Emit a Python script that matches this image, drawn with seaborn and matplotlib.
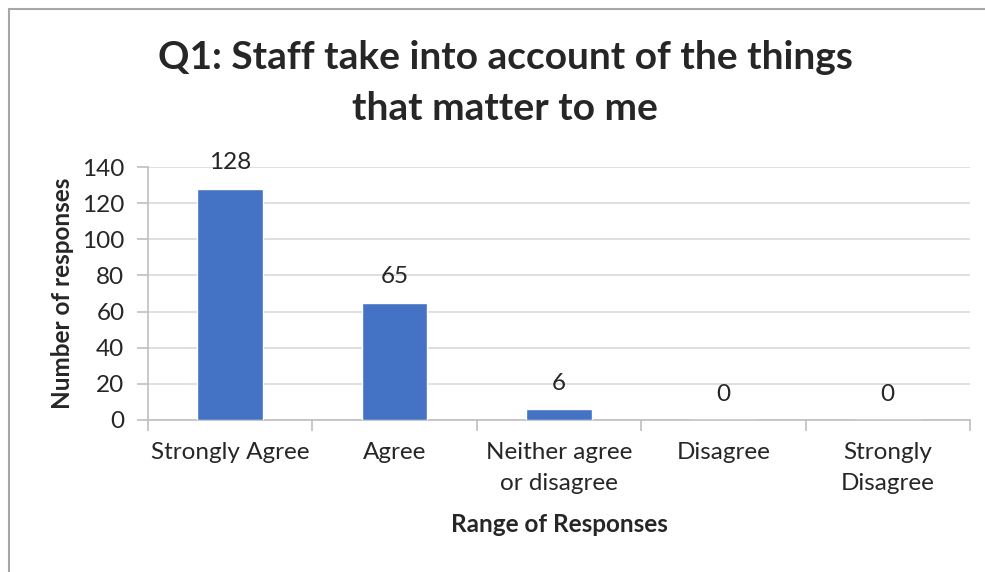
import matplotlib
matplotlib.use("Agg")
import matplotlib.pyplot as plt
from matplotlib.patches import Rectangle
from matplotlib.ticker import FixedLocator
import seaborn as sns
import pandas as pd

categories = ["Strongly Agree", "Agree", "Neither agree\nor disagree", "Disagree", "Strongly\nDisagree"]
responses = [128, 65, 6, 0, 0]
y_ticks = [0, 20, 40, 60, 80, 100, 120, 140]

title = "Q1: Staff take into account of the things\nthat matter to me"
x_label = "Range of Responses"
y_label = "Number of responses"

sns.set_theme(style="white")
plt.rcParams["font.family"] = ["Lato", "DejaVu Sans"]

df = pd.DataFrame({"category": categories, "count": responses})

fig = plt.figure(figsize=(9.85, 5.72), dpi=100)
ax = fig.add_axes([148 / 985, 1 - 420 / 572, (970 - 148) / 985, (420 - 167) / 572])

sns.barplot(data=df, x="category", y="count", color="#4472C4", width=0.4,
            saturation=1, ax=ax, zorder=3)

ax.set_ylim(0, 140)
ax.set_xlim(-0.5, len(categories) - 0.5)
ax.set_yticks(y_ticks)
ax.yaxis.grid(True, color="#d9d9d9", linewidth=1.2, zorder=0)
ax.set_axisbelow(True)

for side in ["top", "right"]:
    ax.spines[side].set_visible(False)
for side in ["left", "bottom"]:
    ax.spines[side].set_color("#bfbfbf")
    ax.spines[side].set_linewidth(1.2)

ax.tick_params(axis="y", which="major", length=8, width=1.2, color="#bfbfbf",
               labelsize=17.5, pad=9, left=True)
ax.tick_params(axis="x", which="major", length=0, labelsize=17.5, pad=16)
ax.xaxis.set_minor_locator(FixedLocator([i - 0.5 for i in range(len(categories) + 1)]))
ax.tick_params(axis="x", which="minor", length=8, width=1.2, color="#bfbfbf", bottom=True)
for lbl in ax.get_xticklabels():
    lbl.set_horizontalalignment("center")
    lbl.set_multialignment("center")
    lbl.set_linespacing(1.6)

ax.bar_label(ax.containers[0], labels=[str(v) for v in responses], fontsize=17.5, padding=11)

ax.set_xlabel(x_label, fontsize=17.5, fontweight="bold")
ax.set_ylabel(y_label, fontsize=17.5, fontweight="bold")
ax.xaxis.set_label_coords(559 / 985, 1 - 525 / 572, transform=fig.transFigure)
ax.yaxis.set_label_coords(62 / 985, 1 - 293 / 572, transform=fig.transFigure)
ax.xaxis.label.set_va("center")
ax.yaxis.label.set_va("center")

fig.text(505 / 985, 1 - 83 / 572, title, ha="center", va="center",
         fontsize=28, fontweight="bold", linespacing=1.55)

# chart frame
fig.patches.append(Rectangle((9 / 985, -0.1), 1.2, 1 - 9 / 572 + 0.1,
                             transform=fig.transFigure, fill=False,
                             edgecolor="#a6a6a6", linewidth=1.5, zorder=10))

fig.savefig("out.png", dpi=100)
